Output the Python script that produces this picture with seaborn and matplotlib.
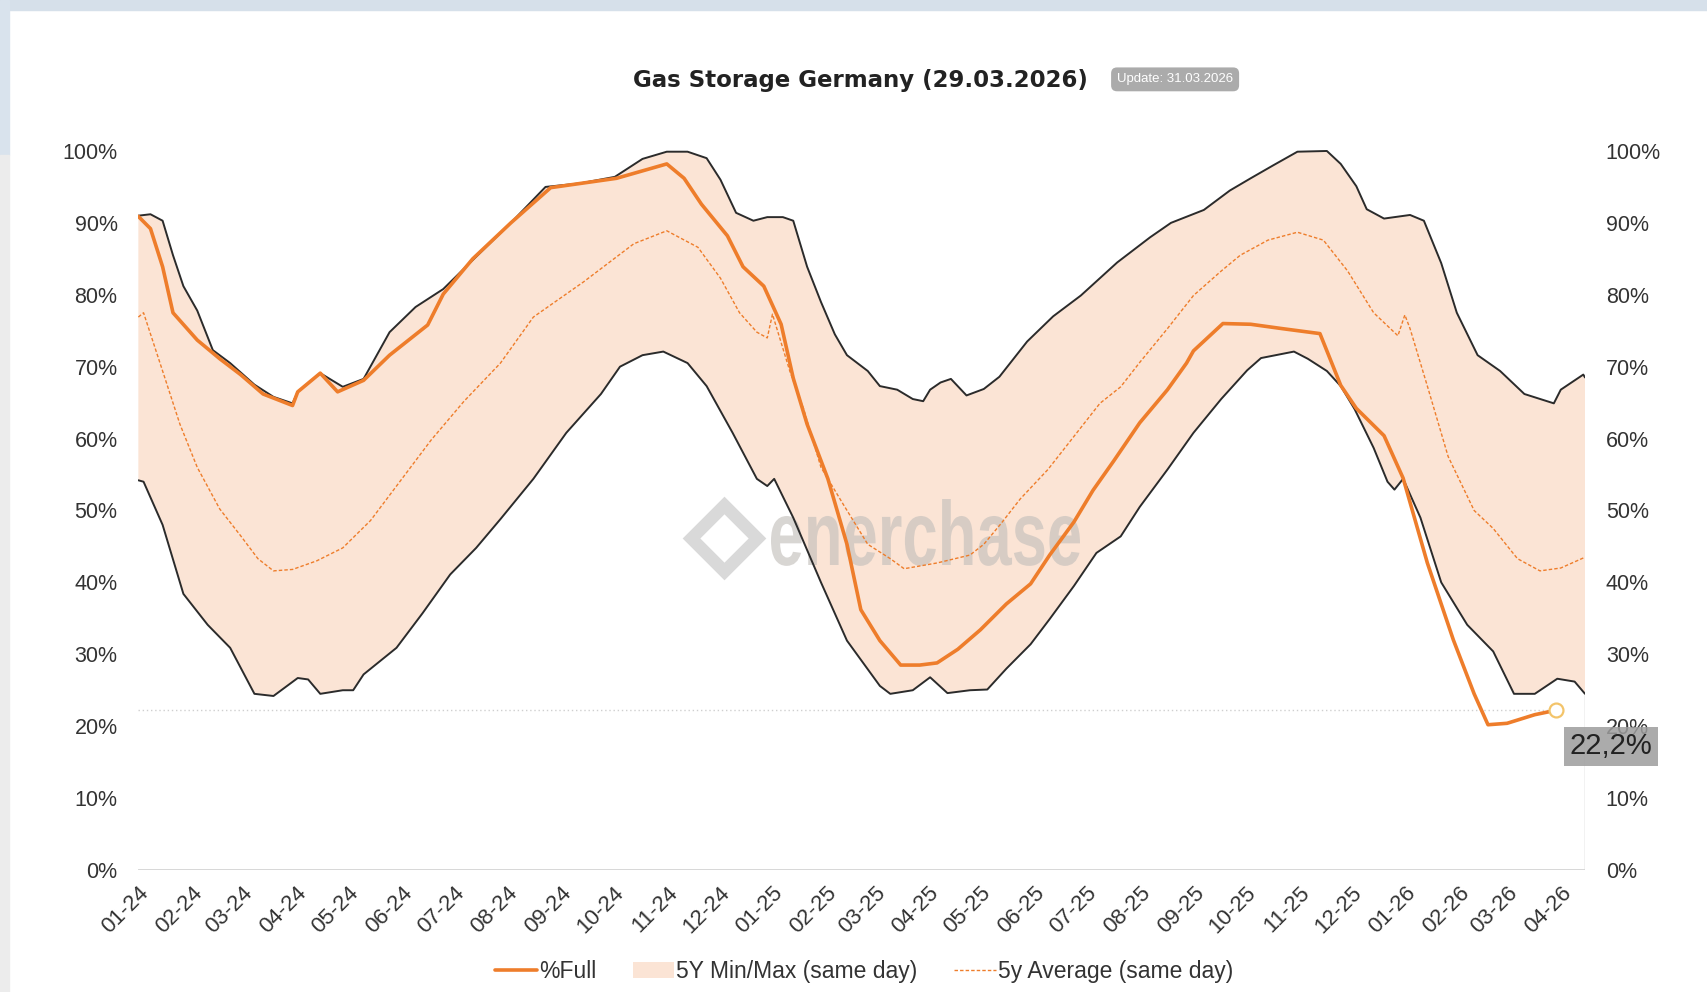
import numpy as np
import pandas as pd
import matplotlib.pyplot as plt
import matplotlib.dates as mdates
import matplotlib.ticker as mticker
from matplotlib.patches import Rectangle, Patch, PathPatch
from matplotlib.lines import Line2D
from matplotlib.textpath import TextPath
from matplotlib.font_manager import FontProperties
from matplotlib.transforms import Affine2D
import seaborn as sns

# --- data (day offset from 01.01.2024, storage level in %) ---
START = pd.Timestamp('2024-01-01')
X_END_DAY = 835  # axis runs to mid April 2026

full_days = [0, 7, 14, 20, 34, 47, 59, 72, 89, 92, 105, 115, 130, 145, 167, 176, 193, 215,
             238, 276, 305, 315, 325, 340, 349, 361, 371, 378, 386, 398, 409, 417, 428, 440,
             451, 461, 473, 486, 501, 515, 526, 540, 551, 563, 578, 594, 605, 609, 626, 642,
             660, 682, 694, 703, 719, 730, 744, 759, 771, 779, 790, 806, 818]
full_pct = [90.9, 89.2, 83.9, 77.5, 73.7, 71.1, 68.9, 66.2, 64.6, 66.5, 69.1, 66.5, 68.1, 71.6,
            75.8, 80.1, 85.0, 90.0, 94.9, 96.2, 98.2, 96.2, 92.6, 88.2, 83.9, 81.2, 75.9, 68.4,
            62.0, 54.4, 45.3, 36.2, 31.9, 28.5, 28.5, 28.8, 30.7, 33.4, 37.0, 39.8, 43.8, 48.4,
            52.8, 56.9, 62.2, 66.8, 70.5, 72.2, 76.0, 75.9, 75.3, 74.6, 67.4, 64.2, 60.4, 54.5,
            42.7, 32.0, 24.5, 20.2, 20.4, 21.6, 22.2]

max_days = [0, 7, 14, 20, 26, 34, 43, 53, 60, 67, 78, 89, 92, 105, 118, 130, 145, 160, 176,
            195, 215, 235, 255, 275, 291, 305, 317, 328, 336, 345, 355, 363, 372, 378, 386,
            394, 402, 409, 421, 428, 438, 447, 453, 457, 463, 469, 478, 488, 497, 513, 528,
            544, 565, 584, 596, 615, 630, 642, 655, 669, 686, 694, 703, 709, 719, 734, 742,
            752, 761, 773, 786, 800, 817, 821, 834, 835]
max_pct = [91.0, 91.2, 90.3, 85.5, 81.2, 77.8, 72.3, 70.5, 69.0, 67.5, 65.8, 64.9, 66.5, 69.1,
           67.2, 68.3, 74.8, 78.3, 80.8, 85.3, 90.0, 95.0, 95.5, 96.4, 98.9, 99.9, 99.9, 99.0,
           96.0, 91.4, 90.3, 90.8, 90.8, 90.3, 83.9, 79.0, 74.5, 71.6, 69.4, 67.3, 66.8, 65.5,
           65.2, 66.8, 67.8, 68.3, 66.0, 66.9, 68.6, 73.5, 77.0, 79.9, 84.5, 88.0, 90.0, 91.8,
           94.5, 96.2, 98.0, 99.9, 100.0, 98.2, 95.1, 91.9, 90.6, 91.1, 90.3, 84.4, 77.5, 71.6,
           69.4, 66.2, 64.9, 66.8, 68.9, 68.5]

min_days = [0, 3, 14, 26, 40, 53, 67, 78, 92, 98, 105, 118, 124, 130, 149, 164, 180, 195, 209,
            228, 247, 267, 278, 291, 303, 317, 328, 343, 357, 363, 367, 378, 394, 409, 428,
            434, 447, 457, 467, 480, 490, 501, 515, 526, 540, 553, 567, 578, 594, 609, 625,
            640, 648, 667, 675, 686, 694, 702, 713, 721, 725, 730, 740, 752, 767, 782, 794,
            806, 819, 829, 835]
min_pct = [54.2, 54.0, 48.0, 38.4, 34.1, 30.9, 24.5, 24.2, 26.7, 26.5, 24.5, 25.0, 25.0, 27.2,
           30.9, 35.7, 41.1, 44.8, 48.8, 54.4, 60.8, 66.2, 70.0, 71.6, 72.1, 70.5, 67.3, 60.8,
           54.4, 53.4, 54.4, 49.0, 40.0, 31.9, 25.6, 24.5, 25.0, 26.8, 24.6, 25.0, 25.1, 28.0,
           31.4, 34.9, 39.5, 44.1, 46.4, 50.5, 55.7, 60.8, 65.5, 69.5, 71.2, 72.1, 71.1, 69.4,
           67.3, 64.1, 58.7, 54.0, 52.9, 54.4, 49.0, 40.0, 34.1, 30.4, 24.5, 24.5, 26.6, 26.2,
           24.5]

avg_days = [0, 3, 14, 24, 34, 47, 59, 69, 78, 89, 103, 118, 134, 149, 169, 188, 209, 228, 257,
            286, 305, 323, 336, 347, 357, 363, 366, 376, 384, 394, 407, 421, 434, 442, 461,
            480, 488, 498, 509, 525, 540, 555, 567, 578, 594, 609, 625, 636, 652, 669, 684,
            698, 713, 727, 731, 734, 744, 756, 771, 782, 796, 809, 821, 835]
avg_pct = [76.9, 77.5, 69.4, 62.0, 56.0, 50.2, 46.5, 43.3, 41.6, 41.8, 43.0, 44.8, 48.6, 53.4,
           59.8, 65.2, 70.5, 76.9, 81.8, 87.1, 88.9, 86.6, 82.3, 77.5, 74.8, 74.0, 77.3, 69.4,
           64.1, 56.0, 50.8, 45.3, 43.3, 41.9, 42.7, 43.8, 45.3, 48.2, 51.6, 55.7, 60.3, 64.9,
           67.2, 70.6, 75.3, 79.9, 83.3, 85.5, 87.6, 88.7, 87.6, 83.3, 77.5, 74.3, 77.2, 75.3,
           67.3, 57.5, 50.0, 47.5, 43.3, 41.6, 42.0, 43.5]

LAST_LABEL = '22,2%'


def to_df(days, pct):
    return pd.DataFrame({'date': START + pd.to_timedelta(days, unit='D'),
                         'pct': np.array(pct) / 100})


df_full = to_df(full_days, full_pct)
df_max = to_df(max_days, max_pct)
df_min = to_df(min_days, min_pct)
df_avg = to_df(avg_days, avg_pct)
end_date = START + pd.Timedelta(days=X_END_DAY)

# colours
ORANGE = '#EE7D2B'
BAND = '#FBE4D5'
EDGE = '#2b2b2b'
W, H = 1708, 992

sns.set_theme(style='white')
plt.rcParams['font.family'] = ['Liberation Sans', 'DejaVu Sans']

fig = plt.figure(figsize=(W / 100, H / 100), dpi=100)
fig.patch.set_facecolor('white')
# screenshot frame
fig.patches.append(Rectangle((0, 1 - 10 / H), 1, 10 / H, transform=fig.transFigure,
                             color='#D6E0EA', zorder=-5))
fig.patches.append(Rectangle((0, 1 - 155 / H), 9 / W, 155 / H, transform=fig.transFigure,
                             color='#D9E3ED', zorder=-5))
fig.patches.append(Rectangle((0, 0), 9 / W, 1 - 155 / H, transform=fig.transFigure,
                             color='#ECECEC', zorder=-5))

ax = fig.add_axes([0.081, 0.123, 0.847, 0.7393])

# 5y min/max band
band_x = np.concatenate([mdates.date2num(df_max['date']), mdates.date2num(df_min['date'])[::-1]])
band_y = np.concatenate([df_max['pct'].values, df_min['pct'].values[::-1]])
ax.fill(band_x, band_y, color=BAND, lw=0, zorder=1)

sns.lineplot(data=df_max, x='date', y='pct', ax=ax, color=EDGE, lw=1.4, zorder=3)
sns.lineplot(data=df_min, x='date', y='pct', ax=ax, color=EDGE, lw=1.4, zorder=3)
sns.lineplot(data=df_avg, x='date', y='pct', ax=ax, color=ORANGE, lw=1.0, zorder=4,
             linestyle=(0, (2.5, 1.5)))
sns.lineplot(data=df_full, x='date', y='pct', ax=ax, color=ORANGE, lw=2.6, zorder=5)

last_date = df_full['date'].iloc[-1]
last_val = df_full['pct'].iloc[-1]
ax.hlines(last_val, START, last_date, colors='#cfcfcf', linestyles=(0, (1, 2)), lw=1, zorder=2)
ax.plot([last_date], [last_val], 'o', mfc='white', mec='#F3C46A', ms=10, mew=1.6, zorder=6)
ax.vlines(end_date, 0, df_min['pct'].iloc[-1], colors='#bdbdbd', lw=1, zorder=2)
ax.axhline(0, color='#d4d4d4', lw=2, zorder=2)

ax.set_xlim(START, end_date)
ax.set_ylim(0, 1.02)
ax.set_xlabel('')
ax.set_ylabel('')
for s in ax.spines.values():
    s.set_visible(False)

pct_fmt = mticker.FuncFormatter(lambda v, p: f'{v * 100:.0f}%')
ax.xaxis.set_major_locator(mdates.MonthLocator())
ax.xaxis.set_major_formatter(mdates.DateFormatter('%m-%y'))
ax.set_yticks(np.arange(0, 1.01, 0.1))
ax.yaxis.set_major_formatter(pct_fmt)
ax.tick_params(axis='x', length=0, pad=9, labelsize=16, labelcolor='#333333')
ax.tick_params(axis='y', length=0, pad=15, labelsize=15.5, labelcolor='#333333')
for lab in ax.get_xticklabels():
    lab.set_rotation(45)
    lab.set_ha('right')
    lab.set_rotation_mode('anchor')

ax2 = ax.twinx()
ax2.set_ylim(ax.get_ylim())
ax2.set_yticks(np.arange(0, 1.01, 0.1))
ax2.yaxis.set_major_formatter(pct_fmt)
ax2.tick_params(axis='y', length=0, pad=15, labelsize=15.5, labelcolor='#333333')
ax2.grid(False)
for s in ax2.spines.values():
    s.set_visible(False)

# last value label
ax2.text(1.018, 0.172, LAST_LABEL, transform=ax.get_yaxis_transform(), ha='center',
         va='center', fontsize=21, color='#222222', zorder=10,
         bbox=dict(boxstyle='square,pad=0.18', fc='#9c9c9c', ec='none', alpha=0.85))

# watermark: condensed bold word + diamond logo
tp = TextPath((0, 0), 'enerchase', size=1,
              prop=FontProperties(family='Liberation Sans', weight='bold'))
ext = tp.get_extents()
wm_tr = (Affine2D().translate(-ext.x0, 0).scale((309 / W) / ext.width, (66 / H) / ext.y1)
         .translate(771 / W, 1 - 565 / H) + fig.transFigure)
ax.add_patch(PathPatch(tp, transform=wm_tr, fc='#c4c0bc', ec='none', alpha=0.65, zorder=2))
ax.plot([0.405], [0.452], marker='D', ms=34, mfc='none', mec='#d0d0d0', mew=9,
        transform=ax.transAxes, zorder=2, alpha=0.8)

# title and badge
fig.text(0.504, 0.919, 'Gas Storage Germany (29.03.2026)', ha='center', va='center',
         fontsize=16.5, fontweight='bold', color='#222222', family='DejaVu Sans')
fig.text(0.688, 0.92, 'Update: 31.03.2026', ha='center', va='center', fontsize=9.5,
         color='white', bbox=dict(boxstyle='round,pad=0.45', fc='#ababab', ec='none'))

# legend
handles = [Line2D([], [], color=ORANGE, lw=2.6),
           Patch(facecolor=BAND, edgecolor='none'),
           Line2D([], [], color=ORANGE, lw=1.0, linestyle=(0, (2.5, 1.5)))]
labels = ['%Full', '5Y Min/Max (same day)', '5y Average (same day)']
fig.legend(handles, labels, loc='center', bbox_to_anchor=(0.506, 0.021), ncol=3, frameon=False,
           fontsize=16.5, handlelength=1.8, handletextpad=0.1, columnspacing=1.6,
           labelcolor='#333333')

fig.savefig('out.png', dpi=100)
